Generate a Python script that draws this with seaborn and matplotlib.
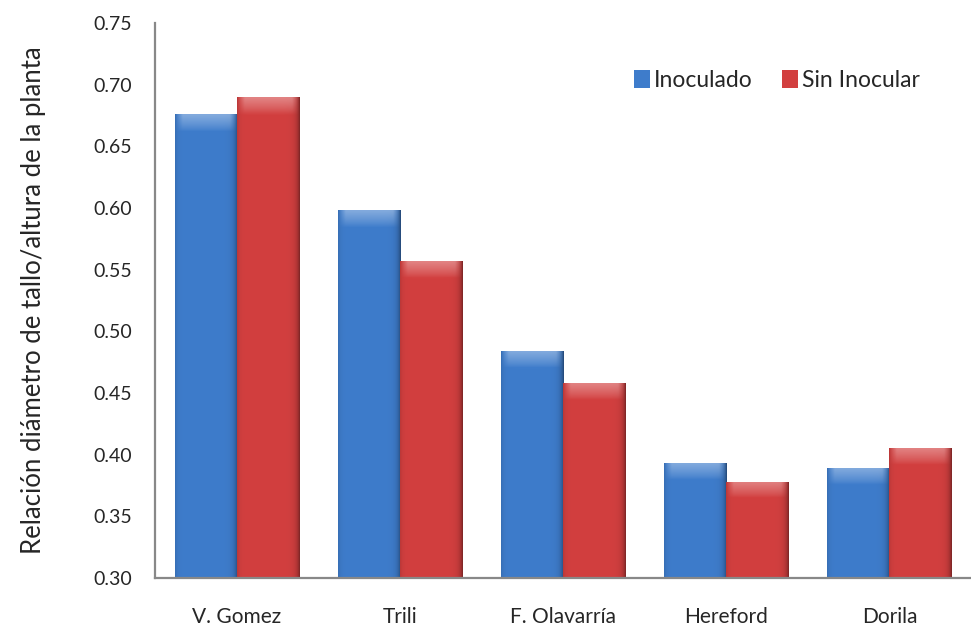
import numpy as np
import pandas as pd
import matplotlib
matplotlib.use("Agg")
import matplotlib.pyplot as plt
import matplotlib.colors as mcolors
from matplotlib.patches import Rectangle
import seaborn as sns

# Cultivars and measured stem diameter / plant height ratio
cultivares = ["V. Gomez", "Trili", "F. Olavarría", "Hereford", "Dorila"]
inoculado = [0.676, 0.598, 0.484, 0.393, 0.389]
sin_inocular = [0.690, 0.557, 0.458, 0.378, 0.405]
tratamientos = ["Inoculado", "Sin Inocular"]
y_ticks = [0.30, 0.35, 0.40, 0.45, 0.50, 0.55, 0.60, 0.65, 0.70, 0.75]

colores = {"Inoculado": "#3E7CCB", "Sin Inocular": "#D23F3F"}

df = pd.DataFrame({
    "Cultivar": cultivares * 2,
    "Tratamiento": [tratamientos[0]] * len(cultivares) + [tratamientos[1]] * len(cultivares),
    "Relacion": inoculado + sin_inocular,
})

sns.set_theme(style="white")
plt.rcParams["font.family"] = ["Lato", "DejaVu Sans"]

fig = plt.figure(figsize=(9.71, 6.29), dpi=100)
ax = fig.add_axes([155 / 971, 1 - 578 / 629, 816 / 971, (578 - 23) / 629])

sns.barplot(data=df, x="Cultivar", y="Relacion", hue="Tratamiento",
            hue_order=tratamientos, palette=colores, width=0.76,
            saturation=1, ax=ax, legend=False)

ax.set_ylim(0.30, 0.75)
ax.set_yticks(y_ticks)
ax.set_yticklabels([f"{v:.2f}" for v in y_ticks], fontsize=14)
ax.set_xlim(-0.5, len(cultivares) - 0.5)
ax.tick_params(axis="x", labelsize=15, length=0, pad=21)
ax.tick_params(axis="y", length=0, pad=16.5)
ax.set_xlabel("")
ax.set_ylabel("Relación diámetro de tallo/altura de la planta", fontsize=18.5, labelpad=34)

for side in ["top", "right"]:
    ax.spines[side].set_visible(False)
for side in ["left", "bottom"]:
    ax.spines[side].set_color("#888888")
    ax.spines[side].set_linewidth(1.6)


def bevel_image(base, nx=60, ny=200, top_frac=0.05):
    """RGBA image with rounded horizontal shading and a light top bevel."""
    rgb = np.array(mcolors.to_rgb(base))
    x = np.linspace(0, 1, nx)
    # darker near the right edge, slightly darker at the left edge
    shade = 1.0 - 0.10 * np.exp(-x / 0.04) - 0.38 * np.exp(-(1 - x) / 0.05)
    img = np.ones((ny, nx, 3)) * rgb[None, None, :] * shade[None, :, None]
    yy = np.linspace(0, 1, ny)[:, None]
    light = np.clip(1 - yy / top_frac, 0, 1) ** 0.8
    edge = np.minimum(x, 1 - x)[None, :]
    taper = np.clip(edge / 0.12, 0, 1)
    mix = (light * taper * 0.35)[..., None]
    img = img * (1 - mix) + mix * np.ones(3)
    return np.clip(img, 0, 1)


for patch in ax.patches:
    if not isinstance(patch, Rectangle) or patch.get_height() <= 0:
        continue
    fc = mcolors.to_hex(patch.get_facecolor())
    x0, y0 = patch.get_x(), patch.get_y()
    w, h = patch.get_width(), patch.get_height()
    # bevel height roughly constant in screen units
    vis_h = y0 + h - 0.30
    frac = min(0.5, 0.013 / max(vis_h, 1e-6))
    img = bevel_image(fc, top_frac=frac)
    im = ax.imshow(img, extent=[x0, x0 + w, 0.30, y0 + h], origin="upper",
                   aspect="auto", interpolation="bilinear", zorder=patch.get_zorder() + 0.1)
    im.set_clip_path(patch)

ax.set_xlim(-0.5, len(cultivares) - 0.5)
ax.set_ylim(0.30, 0.75)

# legend with small square swatches
handles = [Rectangle((0, 0), 1, 1, facecolor=colores[t], edgecolor="none") for t in tratamientos]
leg = ax.legend(handles, tratamientos, loc="upper left", bbox_to_anchor=(0.562, 0.953),
                ncol=2, frameon=False, fontsize=16.5, handlelength=0.7, handleheight=0.8,
                handletextpad=0.15, columnspacing=1.3)

fig.savefig("out.png", dpi=100)
